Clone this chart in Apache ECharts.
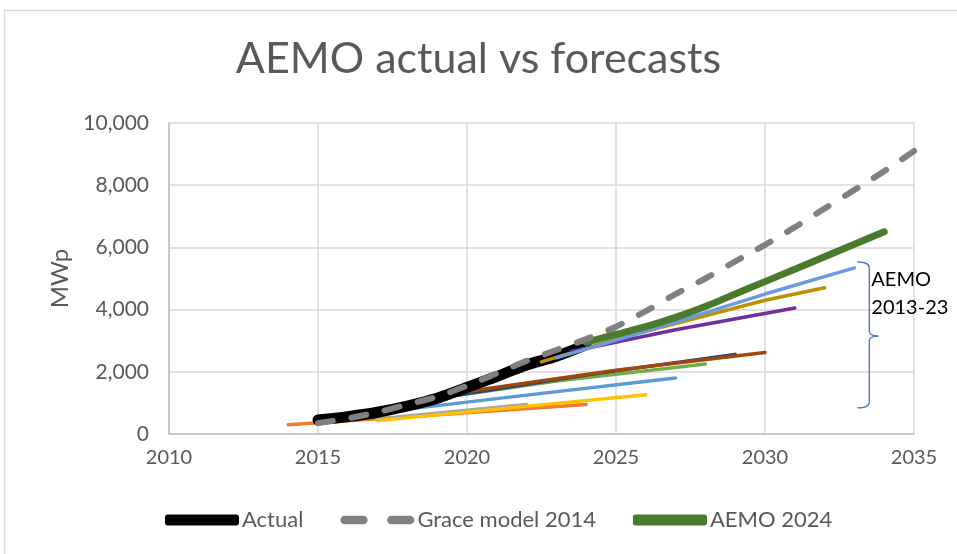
<!DOCTYPE html>
<html>
<head>
<meta charset="utf-8">
<script src="https://cdn.jsdelivr.net/npm/echarts@6/dist/echarts.min.js"></script>
<style>
  html, body { margin: 0; padding: 0; background: #fff; }
  #chart { width: 957px; height: 554px; }
</style>
</head>
<body>
<div id="chart"></div>
<script>
  // data (MWp)
  const actualYears = [2015, 2016, 2017, 2018, 2019, 2020, 2021, 2022, 2023, 2024];
  const actualMW = [450, 560, 700, 900, 1150, 1500, 1850, 2220, 2500, 2870];

  const graceYears = [2015, 2016, 2017, 2018, 2019, 2020, 2021, 2022, 2023, 2024, 2025,
    2026, 2027, 2028, 2029, 2030, 2031, 2032, 2033, 2034, 2035];
  const graceMW = [350, 500, 700, 950, 1200, 1550, 1950, 2350, 2700, 3050, 3450,
    3950, 4500, 5000, 5550, 6080, 6650, 7250, 7850, 8450, 9100];

  const aemo2024Years = [2024, 2025, 2026, 2027, 2028, 2029, 2030, 2031, 2032, 2033, 2034];
  const aemo2024MW = [2950, 3200, 3450, 3750, 4100, 4500, 4900, 5300, 5700, 6100, 6500];

  // older AEMO forecasts (2013-23), not in the legend
  const fcOrangeYears = [2014, 2019, 2024];
  const fcOrangeMW = [300, 620, 950];
  const fcGreyYears = [2017, 2020, 2022];
  const fcGreyMW = [480, 760, 950];
  const fcYellowYears = [2017, 2021, 2026];
  const fcYellowMW = [430, 800, 1260];
  const fcLightBlueYears = [2018, 2022, 2027];
  const fcLightBlueMW = [800, 1250, 1800];
  const fcGreenYears = [2019, 2023, 2028];
  const fcGreenMW = [1150, 1700, 2250];
  const fcDarkBlueYears = [2019, 2024, 2029];
  const fcDarkBlueMW = [1150, 1900, 2560];
  const fcBrownYears = [2020, 2025, 2030];
  const fcBrownMW = [1370, 2050, 2620];
  const fcGoldYears = [2022.5, 2025, 2030, 2032];
  const fcGoldMW = [2320, 3050, 4300, 4700];
  const fcPurpleYears = [2023.5, 2027, 2031];
  const fcPurpleMW = [2650, 3350, 4050];
  const fcBlueYears = [2023, 2026, 2030, 2033];
  const fcBlueMW = [2450, 3300, 4500, 5340];

  const yTicks = [0, 2000, 4000, 6000, 8000, 10000];
  const xTicks = [2010, 2015, 2020, 2025, 2030, 2035];

  // brace next to the old forecasts, in data units
  const braceYear = 2033.5;
  const braceTop = 5530;
  const braceMid = 3150;
  const braceBottom = 840;

  const font = 'Lato';
  const pairs = (xs, ys) => xs.map((x, i) => [x, ys[i]]);

  function forecast(name, xs, ys, color, z) {
    return {
      name: name, type: 'line', data: pairs(xs, ys), symbol: 'none', z: z,
      lineStyle: { color: color, width: 3.5, cap: 'round' },
      itemStyle: { color: color }, silent: true
    };
  }

  const myChart = echarts.init(document.getElementById('chart'));

  const option = {
    animation: false,
    title: {
      text: 'AEMO actual vs forecasts',
      left: 'center', top: 33,
      textStyle: { fontFamily: font, fontSize: 43, fontWeight: 'normal', color: '#595959' }
    },
    legend: {
      data: [
        { name: 'Actual', icon: 'roundRect' },
        { name: 'Grace model 2014', icon: 'path://M4 0h17a4 4 0 0 1 0 8h-17a4 4 0 0 1 0-8zM47 0h17a4 4 0 0 1 0 8h-17a4 4 0 0 1 0-8z' },
        { name: 'AEMO 2024', icon: 'roundRect' }
      ],
      bottom: 18, left: 160,
      itemWidth: 74, itemHeight: 11, itemGap: 37,
      textStyle: { fontFamily: font, fontSize: 22, color: '#595959', padding: [0, 0, 0, -2] }
    },
    grid: { left: 169, right: 43, top: 123, bottom: 120 },
    xAxis: {
      type: 'value', min: xTicks[0], max: xTicks[xTicks.length - 1], interval: 5,
      axisLine: { lineStyle: { color: '#bfbfbf', width: 1.5 } },
      axisTick: { show: false },
      splitLine: { lineStyle: { color: '#d9d9d9', width: 1.5 } },
      axisLabel: { fontFamily: font, fontSize: 20, color: '#595959', margin: 14,
        formatter: v => String(v) }
    },
    yAxis: {
      type: 'value', min: yTicks[0], max: yTicks[yTicks.length - 1], interval: 2000,
      name: 'MWp', nameLocation: 'middle', nameGap: 96,
      nameTextStyle: { fontFamily: font, fontSize: 24, color: '#595959' },
      axisLine: { show: true, lineStyle: { color: '#bfbfbf', width: 1.5 } },
      axisTick: { show: false },
      splitLine: { lineStyle: { color: '#d9d9d9', width: 1.5 } },
      axisLabel: { fontFamily: font, fontSize: 21, color: '#595959', margin: 20,
        formatter: v => v.toLocaleString('en-US') }
    },
    series: [
      forecast('f-orange', fcOrangeYears, fcOrangeMW, '#ED7D31', 2),
      forecast('f-grey', fcGreyYears, fcGreyMW, '#A5A5A5', 2),
      forecast('f-yellow', fcYellowYears, fcYellowMW, '#FFC000', 2),
      forecast('f-lightblue', fcLightBlueYears, fcLightBlueMW, '#5B9BD5', 2),
      forecast('f-green', fcGreenYears, fcGreenMW, '#70AD47', 2),
      forecast('f-darkblue', fcDarkBlueYears, fcDarkBlueMW, '#264478', 2),
      forecast('f-brown', fcBrownYears, fcBrownMW, '#9E480E', 2),
      {
        name: 'Actual', type: 'line', data: pairs(actualYears, actualMW),
        symbol: 'none', smooth: 0.3, z: 3,
        lineStyle: { color: '#000000', width: 11, cap: 'round' },
        itemStyle: { color: '#000000' }
      },
      forecast('f-gold', fcGoldYears, fcGoldMW, '#BF9000', 4),
      forecast('f-purple', fcPurpleYears, fcPurpleMW, '#7030A0', 4),
      forecast('f-blue', fcBlueYears, fcBlueMW, '#6A9BDE', 4),
      {
        name: 'AEMO 2024', type: 'line', data: pairs(aemo2024Years, aemo2024MW),
        symbol: 'none', smooth: 0.2, z: 5,
        lineStyle: { color: '#4A7A2C', width: 7, cap: 'round' },
        itemStyle: { color: '#4A7A2C' }
      },
      {
        name: 'Grace model 2014', type: 'line', data: pairs(graceYears, graceMW),
        symbol: 'none', smooth: 0.3, z: 6,
        lineStyle: { color: '#808080', width: 6, type: [15, 19], cap: 'round' },
        itemStyle: { color: '#808080' }
      }
    ]
  };
  myChart.setOption(option);

  // chart frame + brace annotation, placed through the axes
  const pTop = myChart.convertToPixel({ gridIndex: 0 }, [braceYear, braceTop]);
  const pMid = myChart.convertToPixel({ gridIndex: 0 }, [braceYear, braceMid]);
  const pBot = myChart.convertToPixel({ gridIndex: 0 }, [braceYear, braceBottom]);
  const bx = pTop[0], tipX = bx - 12, midX = bx + 9;
  const braceStyle = { fill: 'none', stroke: '#4472C4', lineWidth: 1.3 };
  const curve = (x1, y1, cx, cy, x2, y2) => ({
    type: 'bezierCurve', silent: true,
    shape: { x1: x1, y1: y1, cpx1: cx, cpy1: cy, x2: x2, y2: y2 },
    style: braceStyle
  });
  const seg = (y1, y2) => ({
    type: 'line', silent: true,
    shape: { x1: bx, y1: y1, x2: bx, y2: y2 },
    style: braceStyle
  });

  myChart.setOption({
    graphic: [
      {
        type: 'rect', silent: true, z: -1,
        shape: { x: 4.5, y: 10.5, width: 1000, height: 600 },
        style: { fill: 'none', stroke: '#d9d9d9', lineWidth: 1.5 }
      },
      curve(tipX, pTop[1], bx, pTop[1], bx, pTop[1] + 6),
      seg(pTop[1] + 6, pMid[1] - 5),
      curve(bx, pMid[1] - 5, bx, pMid[1], midX, pMid[1]),
      curve(midX, pMid[1], bx, pMid[1], bx, pMid[1] + 5),
      seg(pMid[1] + 5, pBot[1] - 6),
      curve(bx, pBot[1] - 6, bx, pBot[1], tipX, pBot[1]),
      {
        type: 'text', silent: true,
        x: bx + 2, y: pTop[1] + 4,
        style: { text: 'AEMO\n2013-23', fontFamily: font, fontSize: 20, lineHeight: 28,
          fill: '#000000' }
      }
    ]
  });
</script>
</body>
</html>
